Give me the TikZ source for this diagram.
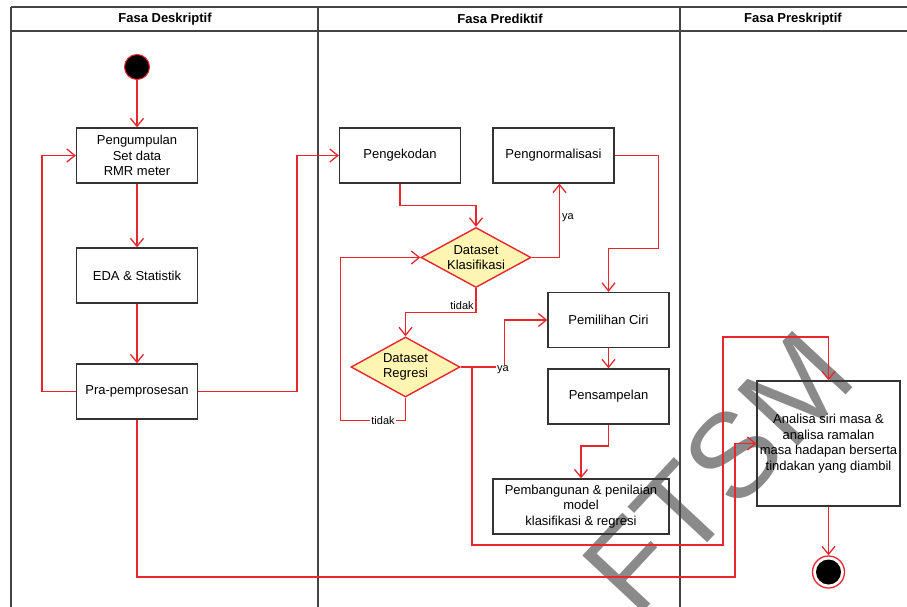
\documentclass[tikz,border=0pt]{standalone}
\usepackage{fontspec}
\setmainfont{Liberation Sans}
\usetikzlibrary{shapes.geometric,arrows.meta}
\definecolor{lred}{HTML}{E8262E}
\definecolor{dfill}{HTML}{FFF5B2}
\definecolor{bord}{HTML}{333333}
\definecolor{lanec}{HTML}{444444}
\definecolor{wmark}{HTML}{8A8A8A}
\begin{document}
\begin{tikzpicture}[x=1pt,y=-1pt,
  box/.style={draw=bord, line width=1.3pt, align=center,
    font=\fontsize{13}{15.5}\selectfont, inner sep=1pt},
  decision/.style={diamond, draw=lred, fill=dfill, line width=1.4pt, inner sep=0pt},
  dlabel/.style={align=center, font=\fontsize{13}{15.5}\selectfont},
  flow/.style={draw=lred, line width=1.5pt, -{Straight Barb[length=8pt,width=13pt,line width=1.3pt]}},
  lbl/.style={font=\fontsize{11}{13}\selectfont, inner sep=1pt},
  lane/.style={draw=lanec, line width=1.5pt},
  head/.style={font=\bfseries\fontsize{13}{15}\selectfont}
]
\useasboundingbox (0,0) rectangle (907,607);
\fill[white] (0,0) rectangle (907,607);

% watermark
\node[text=wmark, font=\fontsize{120}{120}\selectfont, rotate=47, inner sep=0pt] (wm) at (718,472) {FTSM};

% swimlanes
\draw[lane] (11,7) -- (907,7);
\draw[lane] (11,31) -- (907,31);
\draw[lane] (11,7) -- (11,607);
\draw[lane] (318,7) -- (318,607);
\draw[lane] (680,7) -- (680,607);
\node[head] (h1) at (165,19) {Fasa Deskriptif};
\node[head] (h2) at (500,19) {Fasa Prediktif};
\node[head] (h3) at (793,19) {Fasa Preskriptif};

% nodes
\node[circle, fill=black, draw=lred, line width=1pt, minimum size=25pt, inner sep=0pt] (start) at (137,67) {};
\node[box, minimum width=121pt, minimum height=55pt] (p1) at (137,155.5) {Pengumpulan\\Set data\\RMR meter};
\node[box, minimum width=121pt, minimum height=55pt] (eda) at (137,275.5) {EDA \& Statistik};
\node[box, minimum width=121pt, minimum height=55pt] (pra) at (137,391.5) {Pra-pemprosesan};

\node[box, minimum width=121pt, minimum height=55pt] (enc) at (400,155.5) {Pengekodan};
\node[box, minimum width=121pt, minimum height=55pt] (norm) at (553.5,155.5) {Pengnormalisasi};
\node[decision, minimum width=110pt, minimum height=60pt] (dk) at (476,257.5) {};
\node[dlabel] (dkt) at (dk.center) {Dataset\\Klasifikasi};
\node[decision, minimum width=109pt, minimum height=60pt] (dr) at (405.5,367) {};
\node[dlabel] (drt) at (dr.center) {Dataset\\Regresi};

\node[box, minimum width=121pt, minimum height=55pt] (pem) at (608.5,320) {Pemilihan Ciri};
\node[box, minimum width=121pt, minimum height=55pt] (pens) at (608.5,396.5) {Pensampelan};
\node[box, minimum width=176pt, minimum height=55pt] (build) at (581,506.5) {Pembangunan \& penilaian\\model\\klasifikasi \& regresi};

\node[box, minimum width=143pt, minimum height=125pt] (ana) at (828.5,443.5) {Analisa siri masa \&\\analisa ramalan\\masa hadapan berserta\\tindakan yang diambil};
\node[circle, draw=lred, line width=1.3pt, fill=white, minimum size=32pt, inner sep=0pt] (end) at (828.5,572) {};
\node[circle, fill=black, minimum size=25pt, inner sep=0pt] (endin) at (end.center) {};

% connectors
\draw[flow] (start) -- (p1);
\draw[flow] (p1) -- (eda);
\draw[flow] (eda) -- (pra);
\draw[flow] (pra.west) -- ++(-34,0) |- (p1.west);
\draw[flow] (pra.east) -- ++(99,0) |- (enc.west);
\draw[flow] (pra.south) |- (735,577) |- (ana.west);

\draw[flow] (enc.south) -- ++(0,22) -| (dk.north);
\draw[flow] (dk.east) -| ([xshift=6pt]norm.south);
\node[lbl, anchor=west] (ya1) at (561,218) {ya};
\draw[flow] (norm.east) -- ++(44,0) -- ++(0,93) -| (pem.north);

\draw[flow] (dk.south) -- ++(0,24.5) -| (dr.north);
\node[lbl] (td1) at (462,306) {tidak};
\draw[flow] (dr.south) -- ++(0,23) -| ([xshift=-80pt]dk.west) -- (dk.west);
\node[lbl, fill=white] (td2) at (383,421) {tidak};

\coordinate (br) at (472,367);
\draw[flow] (br) -- (472,545) -- (723,545) -- (723,337) -| (ana.north);
\draw[flow] (dr.east) -- ++(44,0) |- (pem.west);
\node[lbl, anchor=west, fill=white] (ya2) at (496,370) {ya};

\draw[flow] (pem) -- (pens);
\draw[flow] (pens.south) -- ++(0,21.5) -| (build.north);
\draw[flow] (ana.south) -- (end.north);
\end{tikzpicture}
\end{document}
